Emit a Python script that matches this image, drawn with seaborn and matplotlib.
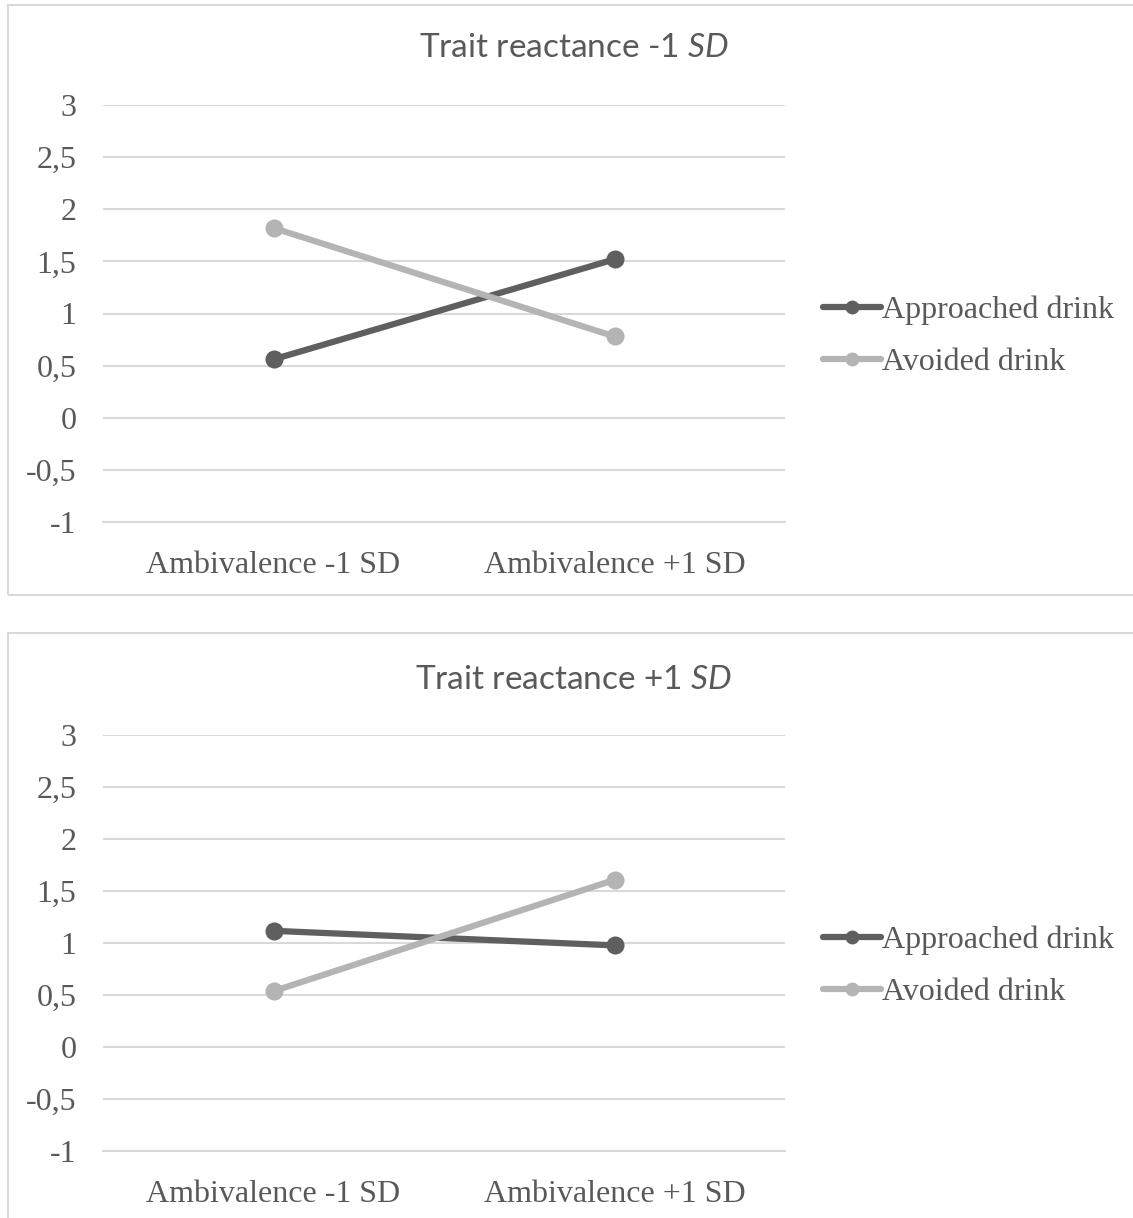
import matplotlib
matplotlib.use("Agg")
import matplotlib.pyplot as plt
from matplotlib.patches import Rectangle
from matplotlib.lines import Line2D
import seaborn as sns
import pandas as pd

# ---- data ----
categories = ["Ambivalence -1 SD", "Ambivalence +1 SD"]
series_names = ["Approached drink", "Avoided drink"]
low_approached = [0.56, 1.52]
low_avoided = [1.82, 0.78]
high_approached = [1.12, 0.98]
high_avoided = [0.54, 1.61]
panel_titles = [r"Trait reactance -1 $\mathit{SD}$", r"Trait reactance +1 $\mathit{SD}$"]
y_ticks = [3, 2.5, 2, 1.5, 1, 0.5, 0, -0.5, -1]
y_ticklabels = ["3", "2,5", "2", "1,5", "1", "0,5", "0", "-0,5", "-1"]

sns.set_style("white")
plt.rcParams["font.family"] = ["Liberation Serif", "DejaVu Serif"]
plt.rcParams["mathtext.fontset"] = "custom"
plt.rcParams["mathtext.it"] = "Lato:italic"
plt.rcParams["mathtext.rm"] = "Lato"

TEXT = "#595959"
GRID = "#d9d9d9"
colors = {"Approached drink": "#5f5f5f", "Avoided drink": "#b4b4b4"}

W, H = 1133, 1218
fig = plt.figure(figsize=(W / 100, H / 100), dpi=100)

def fy(px):
    return 1 - px / H

panels = [
    (low_approached, low_avoided, panel_titles[0], 105, 522, 5, 595, 48),
    (high_approached, high_avoided, panel_titles[1], 735.3, 1151.3, 633, 1230, 680),
]

for appr, avoid, title, ytop, ybot, boxtop, boxbot, ty in panels:
    # chart border
    fig.patches.append(Rectangle((7.5 / W, fy(boxbot)), (1140 - 7.5) / W, (boxbot - boxtop) / H,
                                 transform=fig.transFigure, fill=False, edgecolor=GRID,
                                 linewidth=1.5, zorder=0))
    ax = fig.add_axes([103 / W, fy(ybot), (785 - 103) / W, (ybot - ytop) / H])
    df = pd.DataFrame({
        "category": categories * 2,
        "series": [series_names[0]] * 2 + [series_names[1]] * 2,
        "value": appr + avoid,
    })
    sns.lineplot(data=df, x="category", y="value", hue="series", palette=colors,
                 marker="o", markersize=13, markeredgewidth=0, linewidth=4.5,
                 legend=False, ax=ax, sort=False, zorder=3)
    ax.set_xlim(-0.5, 1.5)
    ax.set_ylim(-1, 3)
    ax.set_yticks(y_ticks)
    ax.set_yticklabels(y_ticklabels)
    ax.set_xticks([0, 1])
    ax.set_xticklabels(categories)
    ax.tick_params(axis="both", length=0, labelsize=23, labelcolor=TEXT)
    ax.tick_params(axis="y", pad=19)
    ax.tick_params(axis="x", pad=21)
    ax.set_xlabel("")
    ax.set_ylabel("")
    ax.grid(axis="y", color=GRID, linewidth=1.5)
    ax.set_axisbelow(True)
    for s in ax.spines.values():
        s.set_visible(False)
    ax.spines["bottom"].set_visible(True)
    ax.spines["bottom"].set_color(GRID)
    ax.spines["bottom"].set_linewidth(1.5)

    fig.text(574 / W, fy(ty), title, ha="center", va="center", fontsize=24,
             color=TEXT, family="Lato")

    handles = [Line2D([0], [0], color=colors[n], marker="o", markersize=10,
                      markeredgewidth=0, linewidth=4.5) for n in series_names]
    ycenter = (ytop + ybot) / 2 + 23
    fig.legend(handles, series_names, loc="center left",
               bbox_to_anchor=(823 / W, fy(ycenter)), frameon=False,
               fontsize=23, labelcolor=TEXT, handlelength=1.8, handletextpad=0.05,
               labelspacing=0.72, borderpad=0, borderaxespad=0)

fig.savefig("out.png", dpi=100)
